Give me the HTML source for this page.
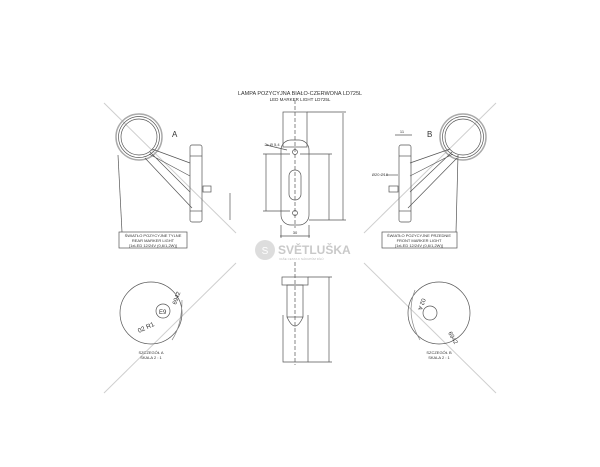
<!DOCTYPE html>
<html><head><meta charset="utf-8"><style>
html,body{margin:0;padding:0;background:#fff;width:600px;height:467px;overflow:hidden}
svg{display:block}
text{font-family:"Liberation Sans",sans-serif;fill:#333}
</style></head><body>
<svg width="600" height="467" viewBox="0 0 600 467" xmlns="http://www.w3.org/2000/svg">
<g stroke="#cfcfcf" stroke-width="1" fill="none">
<line x1="104" y1="103" x2="236" y2="233"/>
<line x1="236" y1="263" x2="104" y2="393"/>
<line x1="496" y1="103" x2="364" y2="233"/>
<line x1="364" y1="263" x2="496" y2="393"/>
</g>
<text x="300" y="95" font-size="5.5" text-anchor="middle">LAMPA POZYCYJNA BIAŁO-CZERWONA LD725L</text>
<text x="300" y="101" font-size="4.5" text-anchor="middle">LED MARKER LIGHT LD725L</text>

<g stroke="#555" stroke-width="0.7" fill="none">
<circle cx="139" cy="137" r="23" stroke="#aaa" stroke-width="1.5"/>
<circle cx="139" cy="137" r="20.5"/>
<circle cx="139" cy="137" r="18"/>
<path d="M152 149 L190 163 M149 154 L190 176 M145 158 L192 208 M150 152 L190 192"/>
<rect x="190" y="145" width="12" height="77" rx="2"/>
<line x1="190" y1="156" x2="202" y2="156"/><line x1="190" y1="211" x2="202" y2="211"/>
<rect x="203" y="186" width="8" height="6"/>
<line x1="230" y1="193" x2="230" y2="220"/>
<line x1="118" y1="155" x2="122" y2="232"/>
<rect x="119" y="232" width="68" height="16"/>
<circle cx="463" cy="137" r="23" stroke="#aaa" stroke-width="1.5"/>
<circle cx="463" cy="137" r="20.5"/>
<circle cx="463" cy="137" r="18"/>
<path d="M450 149 L410 163 M453 154 L410 176 M457 158 L408 208 M452 152 L410 192"/>
<rect x="399" y="145" width="12" height="77" rx="2"/>
<line x1="399" y1="156" x2="411" y2="156"/><line x1="399" y1="211" x2="411" y2="211"/>
<rect x="389" y="186" width="9" height="6"/>
<line x1="458" y1="155" x2="456" y2="232"/>
<rect x="382" y="232" width="75" height="16"/>
<line x1="395" y1="135" x2="412" y2="135"/>
<line x1="386" y1="175" x2="398" y2="175"/>
<rect x="283" y="112" width="24" height="35"/>
<rect x="281" y="140" width="28" height="85" rx="10"/>
<circle cx="295" cy="152" r="2.5"/><circle cx="295" cy="213" r="2.5"/>
<rect x="289" y="170" width="12" height="30" rx="6"/>
<line x1="295" y1="100" x2="295" y2="228" stroke-dasharray="4,2"/>
<line x1="266" y1="154" x2="266" y2="211"/>
<line x1="329" y1="154" x2="329" y2="220"/>
<line x1="343" y1="113" x2="343" y2="220"/>
<line x1="307" y1="112" x2="346" y2="112"/><line x1="309" y1="220" x2="346" y2="220"/>
<line x1="300" y1="154" x2="332" y2="154"/>
<line x1="263" y1="154" x2="290" y2="154"/><line x1="263" y1="211" x2="290" y2="211"/>
<line x1="280" y1="236" x2="310" y2="236"/>
<line x1="281" y1="225" x2="281" y2="238"/><line x1="309" y1="225" x2="309" y2="238"/>
<line x1="266" y1="145" x2="287" y2="150"/>
<rect x="282" y="277" width="26" height="8"/>
<rect x="287" y="285" width="16" height="32"/>
<path d="M283 315 L283 362 L308 362 L308 315 M287 317 Q295 335 303 317"/>
<line x1="295" y1="262" x2="295" y2="365" stroke-dasharray="4,2"/>
<line x1="329" y1="277" x2="329" y2="362"/>
<line x1="308" y1="277" x2="332" y2="277"/><line x1="308" y1="362" x2="332" y2="362"/>
<circle cx="151" cy="313" r="31"/>
<circle cx="163" cy="311" r="7"/>
<path d="M172 340 Q182 325 182 300" stroke="#888"/>
<circle cx="439" cy="313" r="31"/>
<circle cx="430" cy="313" r="7"/>
<path d="M415 290 Q405 315 420 340" stroke="#888"/>
</g>
<g font-size="4" text-anchor="middle">
<text x="153" y="237">ŚWIATŁO POZYCYJNE TYLNE</text>
<text x="153" y="242">REAR MARKER LIGHT</text>
<text x="153" y="247">[1xLED 12/24V (0,6/1,2W)]</text>
<text x="419" y="237">ŚWIATŁO POZYCYJNE PRZEDNIE</text>
<text x="419" y="242">FRONT MARKER LIGHT</text>
<text x="419" y="247">[1xLED 12/24V (0,6/1,2W)]</text>
<text x="151" y="354">SZCZEGÓŁ A</text>
<text x="151" y="359">SKALA 2 : 1</text>
<text x="439" y="354">SZCZEGÓŁ B</text>
<text x="439" y="359">SKALA 2 : 1</text>
<text x="295" y="234">30</text>
<text x="402" y="133">11</text>
<text x="380" y="176">Ø20 Ø10</text>
<text x="272" y="146">2x Ø 5,4</text>
</g>
<text x="172" y="137" font-size="8">A</text>
<text x="427" y="137" font-size="8">B</text>
<text x="139" y="333" font-size="6.5" transform="rotate(-25 139 333)">02 R1</text>
<text x="176" y="305" font-size="6" transform="rotate(-70 176 305)">6942</text>
<text x="159" y="314" font-size="6">E9</text>
<text x="422" y="298" font-size="6" transform="rotate(110 422 298)">02 A</text>
<text x="448" y="333" font-size="6" transform="rotate(60 448 333)">6942</text>
<circle cx="265" cy="250" r="10" fill="#ddd"/>
<text x="265" y="254" font-size="10" text-anchor="middle" style="fill:#fff">S</text>
<text x="278" y="254" font-size="12" font-weight="bold" style="fill:#c9c9c9">SVĚTLUŠKA</text>
<text x="279" y="260" font-size="3" style="fill:#bbb">VAŠE CESTA K NÁKUPŮM DÍLŮ</text>
</svg>
</body></html>
